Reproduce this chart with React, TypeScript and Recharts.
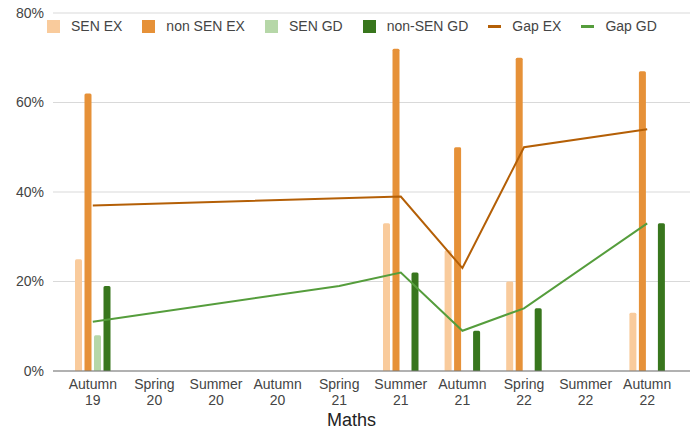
import {
  ComposedChart,
  XAxis,
  YAxis,
  CartesianGrid,
  Bar,
  Line,
} from "recharts";

const categories = [
  "Autumn 19",
  "Spring 20",
  "Summer 20",
  "Autumn 20",
  "Spring 21",
  "Summer 21",
  "Autumn 21",
  "Spring 22",
  "Summer 22",
  "Autumn 22",
];
const senEx = [25, null, null, null, null, 33, 27, 20, null, 13];
const nonSenEx = [62, null, null, null, null, 72, 50, 70, null, 67];
const senGd = [8, null, null, null, null, null, null, null, null, null];
const nonSenGd = [19, null, null, null, null, 22, 9, 14, null, 33];
const gapEx = [37, null, null, null, null, 39, 23, 50, null, 54];
const gapGd = [11, null, null, null, 19, 22, 9, 14, null, 33];
const yTicks = [0, 20, 40, 60, 80];

const data = categories.map((name, i) => ({
  name,
  senEx: senEx[i],
  nonSenEx: nonSenEx[i],
  senGd: senGd[i],
  nonSenGd: nonSenGd[i],
  gapEx: gapEx[i],
  gapGd: gapGd[i],
}));

const FONT = "'Liberation Sans', Arial, sans-serif";

const legendItems = [
  { label: "SEN EX", color: "#f9cb9c", kind: "box" },
  { label: "non SEN EX", color: "#e69138", kind: "box" },
  { label: "SEN GD", color: "#b6d7a8", kind: "box" },
  { label: "non-SEN GD", color: "#38761d", kind: "box" },
  { label: "Gap EX", color: "#b45f06", kind: "line" },
  { label: "Gap GD", color: "#559d3c", kind: "line" },
];

function TwoLineTick(props: any) {
  const { x, y, payload } = props;
  const parts = String(payload.value).split(" ");
  return (
    <text x={x} y={y} textAnchor="middle" fill="#444" fontSize={14} fontFamily={FONT}>
      <tspan x={x} dy="0.71em">{parts[0]}</tspan>
      <tspan x={x} dy={16}>{parts[1]}</tspan>
    </text>
  );
}

export default function App() {
  return (
    <div style={{ position: "absolute", left: 0, top: 0, width: 696, height: 431, background: "#fff" }}>
      <ComposedChart
        width={696}
        height={431}
        data={data}
        margin={{ top: 13, right: 6, bottom: 0, left: 0 }}
        barSize={7}
        barGap={2.5}
      >
        <CartesianGrid vertical={false} stroke="#d9d9d9" />
        <XAxis
          dataKey="name"
          height={60}
          padding={{ left: 9, right: 12 }}
          tickLine={false}
          axisLine={{ stroke: "#777" }}
          interval={0}
          tick={<TwoLineTick />}
          label={{
            value: "Maths",
            position: "insideBottom",
            offset: 5,
            dx: -20,
            fill: "#222",
            fontSize: 18,
            fontFamily: FONT,
          }}
        />
        <YAxis
          width={53}
          domain={[0, 80]}
          ticks={yTicks}
          tickFormatter={(v: number) => `${v}%`}
          axisLine={false}
          tickLine={false}
          tickSize={6}
          tickMargin={3}
          tick={{ fill: "#444", fontSize: 14, fontFamily: FONT }}
        />
        <Bar dataKey="senEx" fill="#f9cb9c" radius={[1.5, 1.5, 0, 0]} isAnimationActive={false} />
        <Bar dataKey="nonSenEx" fill="#e69138" radius={[1.5, 1.5, 0, 0]} isAnimationActive={false} />
        <Bar dataKey="senGd" fill="#b6d7a8" radius={[1.5, 1.5, 0, 0]} isAnimationActive={false} />
        <Bar dataKey="nonSenGd" fill="#38761d" radius={[1.5, 1.5, 0, 0]} isAnimationActive={false} />
        <Line
          dataKey="gapEx"
          stroke="#b45f06"
          strokeWidth={2}
          dot={false}
          connectNulls
          type="linear"
          isAnimationActive={false}
        />
        <Line
          dataKey="gapGd"
          stroke="#559d3c"
          strokeWidth={2}
          dot={false}
          connectNulls
          type="linear"
          isAnimationActive={false}
        />
      </ComposedChart>
      <div
        style={{
          position: "absolute",
          left: 47,
          top: 18,
          display: "flex",
          alignItems: "center",
          fontFamily: FONT,
          fontSize: 14,
          color: "#444",
          lineHeight: "16px",
        }}
      >
        {legendItems.map((it) => (
          <div key={it.label} style={{ display: "flex", alignItems: "center", marginRight: 20 }}>
            {it.kind === "box" ? (
              <span style={{ width: 13, height: 13, background: it.color, display: "inline-block", marginRight: 11 }} />
            ) : (
              <span style={{ width: 13, height: 3, background: it.color, display: "inline-block", marginRight: 11 }} />
            )}
            <span>{it.label}</span>
          </div>
        ))}
      </div>
    </div>
  );
}
